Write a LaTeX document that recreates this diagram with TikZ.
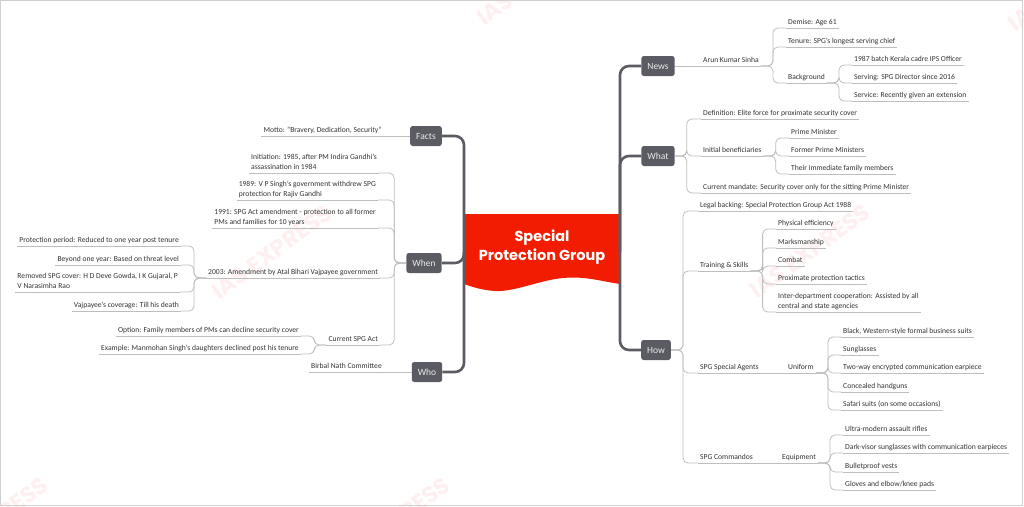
\documentclass[tikz,border=0pt]{standalone}
\usepackage{fontspec}
\setmainfont{Carlito}
\newfontfamily\titlefont{Poppins}
\usetikzlibrary{positioning}
\definecolor{hubred}{HTML}{F21D00}
\definecolor{branchgray}{HTML}{5B5B63}
\definecolor{twiggray}{HTML}{BEBEBE}
\definecolor{ink}{HTML}{333333}
\definecolor{framegray}{HTML}{D0D0D0}
\definecolor{wmark}{HTML}{FEF0F0}

\begin{document}
\begin{tikzpicture}[x=1pt,y=-1pt,
  branch/.style={rectangle,rounded corners=2.5pt,fill=branchgray,text=white!92!black,
    font=\fontsize{9.5}{10}\selectfont,inner xsep=6pt,minimum height=20pt},
  twig/.style={draw=twiggray,line width=0.8pt,rounded corners=5pt},
  trunk/.style={draw=branchgray,line width=2.6pt,rounded corners=9pt},
  leaf/.style={font=\fontsize{7.6}{10}\selectfont,text=ink,inner xsep=2pt,inner ysep=1.5pt,
    text depth=2pt,anchor=south west,align=left,
    append after command={(\tikzlastnode.south west) edge[twig] (\tikzlastnode.south east)}},
  lleaf/.style={leaf,anchor=south east},
  rgt/.style={to path={-- ++(12,0) |- (\tikztotarget)}},
  lft/.style={to path={-- ++(-12,0) |- (\tikztotarget)}},
  wm/.style={font=\titlefont\bfseries\fontsize{23}{23}\selectfont,text=wmark,rotate=36}]
  \useasboundingbox (0,0) rectangle (1024,506);
  % watermarks
  \begin{scope}
    \clip (0,0) rectangle (1024,506);
    \node[wm] (wm1) at (272,252) {IAS EXPRESS};
    \node[wm] (wm2) at (810,251) {IAS EXPRESS};
    \node[wm] (wm3) at (537,-22) {IAS EXPRESS};
    \node[wm] (wm4) at (1068,-16) {IAS EXPRESS};
    \node[wm] (wm5) at (-12,524) {IAS EXPRESS};
    \node[wm] (wm6) at (390,524) {IAS EXPRESS};
  \end{scope}
  \draw[framegray,line width=1.2pt] (0.6,0.6) rectangle (1022.6,505.4);

  % central topic
  \fill[hubred] (464,214) -- (620,214) -- (620,284)
    .. controls (600,281) and (585,276) .. (563,278)
    .. controls (540,280) and (515,292) .. (495,291)
    .. controls (480,290) and (470,286) .. (464,284) -- cycle;
  \node[text=white,font=\titlefont\bfseries\fontsize{14.5}{19}\selectfont,align=center]
    (sgp) at (542,247) {Special\\Protection Group};
  \coordinate (hl) at (464,252);
  \coordinate (hr) at (620,252);

  % main topics
  \node[branch] (news)  at (658,66)  {News};
  \node[branch] (what)  at (658,156) {What};
  \node[branch] (how)   at (656,350) {How};
  \node[branch] (facts) at (426,136) {Facts};
  \node[branch] (when)  at (424,263) {When};
  \node[branch] (who)   at (427,372) {Who};
  \draw[trunk] (hr) |- (news.west);
  \draw[trunk] (hr) |- (what.west);
  \draw[trunk] (hr) |- (how.west);
  \draw[trunk] (hl) |- (facts.east);
  \draw[trunk] (hl) |- (when.east);
  \draw[trunk] (hl) |- (who.east);

  % News
  \node[leaf] (arun)    at (701,66)  {Arun Kumar Sinha};
  \node[leaf] (demise)  at (786,28)  {Demise: Age 61};
  \node[leaf] (tenure)  at (786,47)  {Tenure: SPG's longest serving chief};
  \node[leaf] (backg)   at (786,83)  {Background};
  \node[leaf] (kerala)  at (852,65)  {1987 batch Kerala cadre IPS Officer};
  \node[leaf] (serving) at (852,83)  {Serving: SPG Director since 2016};
  \node[leaf] (service) at (852,101) {Service: Recently given an extension};
  \path[twig]
    (news.east) edge (arun.south west)
    (arun.south east) edge[rgt] (demise.south west)
                      edge[rgt] (tenure.south west)
                      edge[rgt] (backg.south west)
    (backg.south east) edge[rgt] (kerala.south west)
                       edge[rgt] (serving.south west)
                       edge[rgt] (service.south west);

  % What
  \node[leaf] (defin)    at (701,119) {Definition: Elite force for proximate security cover};
  \node[leaf] (initb)    at (701,156) {Initial beneficiaries};
  \node[leaf] (mandate)  at (701,193) {Current mandate: Security cover only for the sitting Prime Minister};
  \node[leaf] (pm)       at (789,138) {Prime Minister};
  \node[leaf] (formerpm) at (789,156) {Former Prime Ministers};
  \node[leaf] (family)   at (789,174) {Their immediate family members};
  \path[twig]
    (what.east) edge[rgt] (defin.south west)
                edge[rgt] (initb.south west)
                edge[rgt] (mandate.south west)
    (initb.south east) edge[rgt] (pm.south west)
                       edge[rgt] (formerpm.south west)
                       edge[rgt] (family.south west);

  % How
  \node[leaf] (legal)     at (698,211) {Legal backing: Special Protection Group Act 1988};
  \node[leaf] (train)     at (698,271) {Training \& Skills};
  \node[leaf] (agents)    at (698,373) {SPG Special Agents};
  \node[leaf] (commandos) at (698,463) {SPG Commandos};
  \node[leaf] (phys)      at (776,229) {Physical efficiency};
  \node[leaf] (marks)     at (776,248) {Marksmanship};
  \node[leaf] (combat)    at (776,266) {Combat};
  \node[leaf] (tactics)   at (776,284) {Proximate protection tactics};
  \node[leaf] (interdept) at (776,312) {Inter-department cooperation: Assisted by all\\central and state agencies};
  \node[leaf] (uniform)   at (786,373) {Uniform};
  \node[leaf] (suits)     at (841,337) {Black, Western-style formal business suits};
  \node[leaf] (sungl)     at (841,355) {Sunglasses};
  \node[leaf] (earpiece)  at (841,373) {Two-way encrypted communication earpiece};
  \node[leaf] (handguns)  at (841,392) {Concealed handguns};
  \node[leaf] (safari)    at (841,410) {Safari suits (on some occasions)};
  \node[leaf] (equip)     at (780,463) {Equipment};
  \node[leaf] (rifles)    at (843,435) {Ultra-modern assault rifles};
  \node[leaf] (visor)     at (843,453) {Dark-visor sunglasses with communication earpieces};
  \node[leaf] (vests)     at (843,472) {Bulletproof vests};
  \node[leaf] (gloves)    at (843,490) {Gloves and elbow/knee pads};
  \path[twig]
    (how.east) edge[rgt] (legal.south west)
               edge[rgt] (train.south west)
               edge[rgt] (agents.south west)
               edge[rgt] (commandos.south west)
    (train.south east) edge[rgt] (phys.south west)
                       edge[rgt] (marks.south west)
                       edge[rgt] (combat.south west)
                       edge[rgt] (tactics.south west)
                       edge[rgt] (interdept.south west)
    (agents.south east) edge (uniform.south west)
    (uniform.south east) edge[rgt] (suits.south west)
                         edge[rgt] (sungl.south west)
                         edge[rgt] (earpiece.south west)
                         edge[rgt] (handguns.south west)
                         edge[rgt] (safari.south west)
    (commandos.south east) edge (equip.south west)
    (equip.south east) edge[rgt] (rifles.south west)
                       edge[rgt] (visor.south west)
                       edge[rgt] (vests.south west)
                       edge[rgt] (gloves.south west);

  % Facts and Who
  \node[lleaf] (motto)  at (384,136) {Motto: "Bravery, Dedication, Security"};
  \node[lleaf] (birbal) at (384,372) {Birbal Nath Committee};
  \path[twig]
    (facts.west) edge (motto.south east)
    (who.west) edge (birbal.south east);

  % When
  \node[lleaf] (init)     at (379,173) {Initiation: 1985, after PM Indira Gandhi's\\assassination in 1984};
  \node[lleaf] (y1989)    at (378,200) {1989: V P Singh's government withdrew SPG\\protection for Rajiv Gandhi};
  \node[lleaf] (y1991)    at (378,228) {1991: SPG Act amendment - protection to all former\\PMs and families for 10 years};
  \node[lleaf] (y2003)    at (380,278) {2003: Amendment by Atal Bihari Vajpayee government};
  \node[lleaf] (current)  at (380,345) {Current SPG Act};
  \node[lleaf] (period)   at (181,246) {Protection period: Reduced to one year post tenure};
  \node[lleaf] (beyond)   at (181,265) {Beyond one year: Based on threat level};
  \node[lleaf] (removed)  at (180,292) {Removed SPG cover: H D Deve Gowda, I K Gujaral, P\\V Narasimha Rao};
  \node[lleaf] (vajpayee) at (181,311) {Vajpayee's coverage: Till his death};
  \node[lleaf] (option)   at (301,336) {Option: Family members of PMs can decline security cover};
  \node[lleaf] (example)  at (301,354) {Example: Manmohan Singh's daughters declined post his tenure};
  \path[twig]
    (when.west) edge[lft] (init.south east)
                edge[lft] (y1989.south east)
                edge[lft] (y1991.south east)
                edge[lft] (y2003.south east)
                edge[lft] (current.south east)
    (y2003.south west) edge[lft] (period.south east)
                       edge[lft] (beyond.south east)
                       edge[lft] (removed.south east)
                       edge[lft] (vajpayee.south east)
    (current.south west) edge[lft] (option.south east)
                         edge[lft] (example.south east);
\end{tikzpicture}
\end{document}
